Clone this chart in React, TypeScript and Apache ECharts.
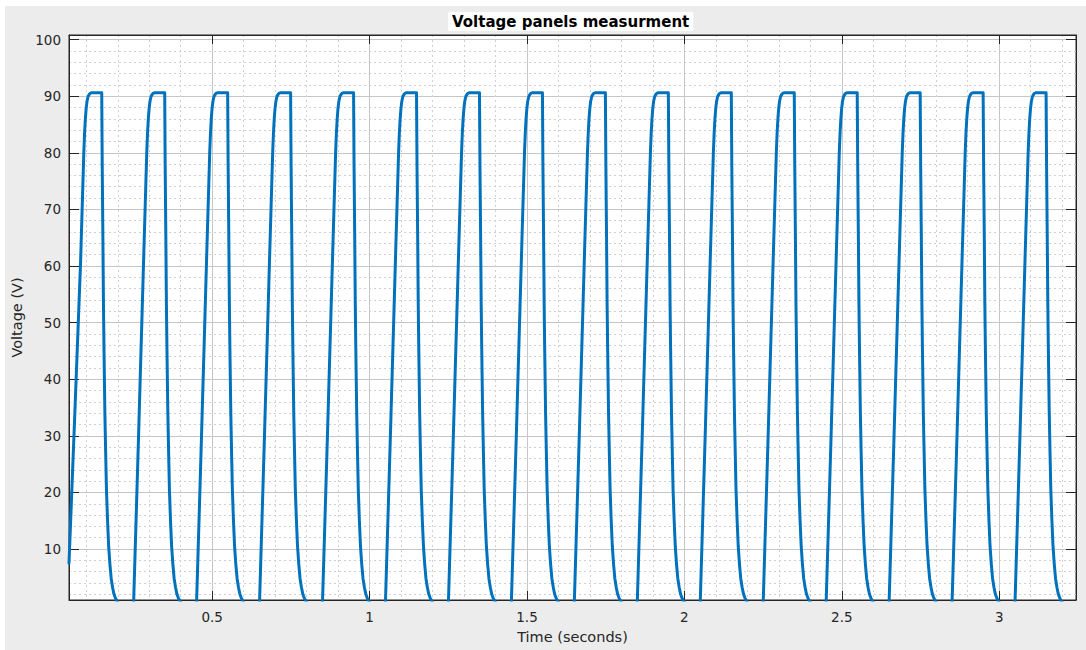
import React, { useEffect, useRef } from "react";
import * as echarts from "echarts";

// ---- tick values ----
const xMajorTicks = [0.5, 1, 1.5, 2, 2.5, 3];
const yMajorTicks = [10, 20, 30, 40, 50, 60, 70, 80, 90, 100];
const xMinorTicks = [
  0.1, 0.2, 0.3, 0.4, 0.6, 0.7, 0.8, 0.9, 1.1, 1.2, 1.3, 1.4, 1.6, 1.7, 1.8, 1.9,
  2.1, 2.2, 2.3, 2.4, 2.6, 2.7, 2.8, 2.9, 3.1, 3.2,
];
const yMinorTicks = [
  2, 4, 6, 8, 12, 14, 16, 18, 22, 24, 26, 28, 32, 34, 36, 38, 42, 44, 46, 48,
  52, 54, 56, 58, 62, 64, 66, 68, 72, 74, 76, 78, 82, 84, 86, 88, 92, 94, 96, 98,
];

// ---- series values ----
const firstPulseTimes = [0.045, 0.0627, 0.082, 0.092, 0.0945, 0.097, 0.0995, 0.102, 0.105, 0.108, 0.112, 0.116, 0.149, 0.1505, 0.1525, 0.1545, 0.156, 0.159, 0.1615, 0.164, 0.1675, 0.171, 0.175, 0.179, 0.1835, 0.188, 0.193, 0.198, 0.205];
const firstPulseVolts = [7.5, 32.8, 61, 80, 83.5, 86, 87.8, 89, 89.8, 90.2, 90.5, 90.6, 90.6, 78, 66, 53, 46, 34, 27, 20.5, 15, 10.5, 7.3, 4.8, 3.2, 2, 1.25, 0.8, 0];

const pulseVolts = [0, 30, 61, 80, 83.5, 86, 87.8, 89, 89.8, 90.2, 90.5, 90.6, 90.6, 78, 66, 53, 46, 34, 27, 20.5, 15, 10.5, 7.3, 4.8, 3.2, 2, 1.25, 0.8, 0];
const pulseTimes: number[][] = [
  [0.25, 0.266, 0.282, 0.292, 0.2945, 0.297, 0.2995, 0.302, 0.305, 0.308, 0.312, 0.316, 0.349, 0.3505, 0.3525, 0.3545, 0.356, 0.359, 0.3615, 0.364, 0.3675, 0.371, 0.375, 0.379, 0.3835, 0.388, 0.393, 0.398, 0.405],
  [0.45, 0.466, 0.482, 0.492, 0.4945, 0.497, 0.4995, 0.502, 0.505, 0.508, 0.512, 0.516, 0.549, 0.5505, 0.5525, 0.5545, 0.556, 0.559, 0.5615, 0.564, 0.5675, 0.571, 0.575, 0.579, 0.5835, 0.588, 0.593, 0.598, 0.605],
  [0.65, 0.666, 0.682, 0.692, 0.6945, 0.697, 0.6995, 0.702, 0.705, 0.708, 0.712, 0.716, 0.749, 0.7505, 0.7525, 0.7545, 0.756, 0.759, 0.7615, 0.764, 0.7675, 0.771, 0.775, 0.779, 0.7835, 0.788, 0.793, 0.798, 0.805],
  [0.85, 0.866, 0.882, 0.892, 0.8945, 0.897, 0.8995, 0.902, 0.905, 0.908, 0.912, 0.916, 0.949, 0.9505, 0.9525, 0.9545, 0.956, 0.959, 0.9615, 0.964, 0.9675, 0.971, 0.975, 0.979, 0.9835, 0.988, 0.993, 0.998, 1.005],
  [1.05, 1.066, 1.082, 1.092, 1.0945, 1.097, 1.0995, 1.102, 1.105, 1.108, 1.112, 1.116, 1.149, 1.1505, 1.1525, 1.1545, 1.156, 1.159, 1.1615, 1.164, 1.1675, 1.171, 1.175, 1.179, 1.1835, 1.188, 1.193, 1.198, 1.205],
  [1.25, 1.266, 1.282, 1.292, 1.2945, 1.297, 1.2995, 1.302, 1.305, 1.308, 1.312, 1.316, 1.349, 1.3505, 1.3525, 1.3545, 1.356, 1.359, 1.3615, 1.364, 1.3675, 1.371, 1.375, 1.379, 1.3835, 1.388, 1.393, 1.398, 1.405],
  [1.45, 1.466, 1.482, 1.492, 1.4945, 1.497, 1.4995, 1.502, 1.505, 1.508, 1.512, 1.516, 1.549, 1.5505, 1.5525, 1.5545, 1.556, 1.559, 1.5615, 1.564, 1.5675, 1.571, 1.575, 1.579, 1.5835, 1.588, 1.593, 1.598, 1.605],
  [1.65, 1.666, 1.682, 1.692, 1.6945, 1.697, 1.6995, 1.702, 1.705, 1.708, 1.712, 1.716, 1.749, 1.7505, 1.7525, 1.7545, 1.756, 1.759, 1.7615, 1.764, 1.7675, 1.771, 1.775, 1.779, 1.7835, 1.788, 1.793, 1.798, 1.805],
  [1.85, 1.866, 1.882, 1.892, 1.8945, 1.897, 1.8995, 1.902, 1.905, 1.908, 1.912, 1.916, 1.949, 1.9505, 1.9525, 1.9545, 1.956, 1.959, 1.9615, 1.964, 1.9675, 1.971, 1.975, 1.979, 1.9835, 1.988, 1.993, 1.998, 2.005],
  [2.05, 2.066, 2.082, 2.092, 2.0945, 2.097, 2.0995, 2.102, 2.105, 2.108, 2.112, 2.116, 2.149, 2.1505, 2.1525, 2.1545, 2.156, 2.159, 2.1615, 2.164, 2.1675, 2.171, 2.175, 2.179, 2.1835, 2.188, 2.193, 2.198, 2.205],
  [2.25, 2.266, 2.282, 2.292, 2.2945, 2.297, 2.2995, 2.302, 2.305, 2.308, 2.312, 2.316, 2.349, 2.3505, 2.3525, 2.3545, 2.356, 2.359, 2.3615, 2.364, 2.3675, 2.371, 2.375, 2.379, 2.3835, 2.388, 2.393, 2.398, 2.405],
  [2.45, 2.466, 2.482, 2.492, 2.4945, 2.497, 2.4995, 2.502, 2.505, 2.508, 2.512, 2.516, 2.549, 2.5505, 2.5525, 2.5545, 2.556, 2.559, 2.5615, 2.564, 2.5675, 2.571, 2.575, 2.579, 2.5835, 2.588, 2.593, 2.598, 2.605],
  [2.65, 2.666, 2.682, 2.692, 2.6945, 2.697, 2.6995, 2.702, 2.705, 2.708, 2.712, 2.716, 2.749, 2.7505, 2.7525, 2.7545, 2.756, 2.759, 2.7615, 2.764, 2.7675, 2.771, 2.775, 2.779, 2.7835, 2.788, 2.793, 2.798, 2.805],
  [2.85, 2.866, 2.882, 2.892, 2.8945, 2.897, 2.8995, 2.902, 2.905, 2.908, 2.912, 2.916, 2.949, 2.9505, 2.9525, 2.9545, 2.956, 2.959, 2.9615, 2.964, 2.9675, 2.971, 2.975, 2.979, 2.9835, 2.988, 2.993, 2.998, 3.005],
  [3.05, 3.066, 3.082, 3.092, 3.0945, 3.097, 3.0995, 3.102, 3.105, 3.108, 3.112, 3.116, 3.149, 3.1505, 3.1525, 3.1545, 3.156, 3.159, 3.1615, 3.164, 3.1675, 3.171, 3.175, 3.179, 3.1835, 3.188, 3.193, 3.198, 3.205],
];

const X_MIN = 0.045;
const X_MAX = 3.244;
const Y_MIN = 1;
const Y_MAX = 100.8;

export default function App() {
  const ref = useRef<HTMLDivElement>(null);

  useEffect(() => {
    if (!ref.current) return;
    const chart = echarts.init(ref.current, undefined, { renderer: "svg" });

    const data: number[][] = [];
    firstPulseTimes.forEach((t, i) => data.push([t, firstPulseVolts[i]]));
    pulseTimes.forEach((row) => row.forEach((t, i) => data.push([t, pulseVolts[i]])));

    const axisColor = "#262626";
    const font = "DejaVu Sans";
    const majorGrid = { show: true, lineStyle: { color: "#c6c6c6", width: 1, type: "solid" } };
    const minorGrid = { show: true, lineStyle: { color: "#d0d0d0", width: 1, type: [2, 3] } };
    const hiddenText = { show: false };

    const option: any = {
      animation: false,
      backgroundColor: "#ececec",
      title: {
        text: "Voltage panels measurment",
        left: 448,
        top: 12,
        padding: [1, 4, 0, 4],
        backgroundColor: "#ffffff",
        textStyle: { fontFamily: font, fontWeight: "bold", fontSize: 15, color: "#000000", lineHeight: 18 },
      },
      graphic: [
        { type: "rect", left: 0, top: 0, shape: { width: 1086, height: 6 }, style: { fill: "#ffffff" }, silent: true },
        { type: "rect", left: 0, top: 0, shape: { width: 5, height: 650 }, style: { fill: "#ffffff" }, silent: true },
        { type: "line", shape: { x1: 692.5, y1: 13, x2: 692.5, y2: 31 }, style: { stroke: "#000000", lineWidth: 1 }, silent: true },
      ],
      grid: {
        left: 69,
        right: 10,
        top: 35,
        bottom: 50,
        show: true,
        backgroundColor: "#ffffff",
        borderColor: axisColor,
        borderWidth: 1,
        containLabel: false,
        outerBoundsMode: "none",
      },
      xAxis: [
        {
          type: "value",
          position: "bottom",
          min: X_MIN,
          max: X_MAX,
          axisLine: { show: true, onZero: false, lineStyle: { color: axisColor, width: 1 } },
          axisTick: { show: true, inside: true, length: 9, customValues: xMajorTicks, lineStyle: { color: axisColor } },
          axisLabel: { show: true, customValues: xMajorTicks, margin: 10, color: axisColor, fontFamily: font, fontSize: 13.5 },
          splitLine: majorGrid,
          name: "Time (seconds)",
          nameLocation: "middle",
          nameGap: 29,
          nameTextStyle: { color: axisColor, fontFamily: font, fontSize: 14.5 },
        },
        {
          type: "value",
          position: "bottom",
          min: X_MIN,
          max: X_MAX,
          axisLine: { show: false, onZero: false },
          axisTick: { show: false, customValues: xMinorTicks },
          axisLabel: hiddenText,
          splitLine: minorGrid,
        },
        {
          type: "value",
          position: "top",
          min: X_MIN,
          max: X_MAX,
          axisLine: { show: true, onZero: false, lineStyle: { color: axisColor, width: 1 } },
          axisTick: { show: true, inside: true, length: 9, customValues: xMajorTicks, lineStyle: { color: axisColor } },
          axisLabel: hiddenText,
          splitLine: { show: false },
        },
      ],
      yAxis: [
        {
          type: "value",
          position: "left",
          min: Y_MIN,
          max: Y_MAX,
          axisLine: { show: true, onZero: false, lineStyle: { color: axisColor, width: 1 } },
          axisTick: { show: true, inside: true, length: 10, customValues: yMajorTicks, lineStyle: { color: axisColor } },
          axisLabel: { show: true, customValues: yMajorTicks, margin: 8, color: axisColor, fontFamily: font, fontSize: 13.5 },
          splitLine: majorGrid,
          name: "Voltage (V)",
          nameLocation: "middle",
          nameGap: 44,
          nameTextStyle: { color: axisColor, fontFamily: font, fontSize: 14.5 },
        },
        {
          type: "value",
          position: "left",
          min: Y_MIN,
          max: Y_MAX,
          axisLine: { show: false, onZero: false },
          axisTick: { show: false, customValues: yMinorTicks },
          axisLabel: hiddenText,
          splitLine: minorGrid,
        },
        {
          type: "value",
          position: "right",
          min: Y_MIN,
          max: Y_MAX,
          axisLine: { show: true, onZero: false, lineStyle: { color: axisColor, width: 1 } },
          axisTick: { show: true, inside: true, length: 10, customValues: yMajorTicks, lineStyle: { color: axisColor } },
          axisLabel: hiddenText,
          splitLine: { show: false },
        },
      ],
      series: [
        {
          type: "line",
          xAxisIndex: 0,
          yAxisIndex: 0,
          data,
          symbol: "none",
          showSymbol: false,
          clip: true,
          z: 5,
          lineStyle: { color: "#0072bd", width: 3, join: "round", cap: "round" },
        },
      ],
    };

    chart.setOption(option);
    return () => chart.dispose();
  }, []);

  return (
    <div
      ref={ref}
      style={{ position: "fixed", left: 0, top: 0, width: "1086px", height: "650px" }}
    />
  );
}
